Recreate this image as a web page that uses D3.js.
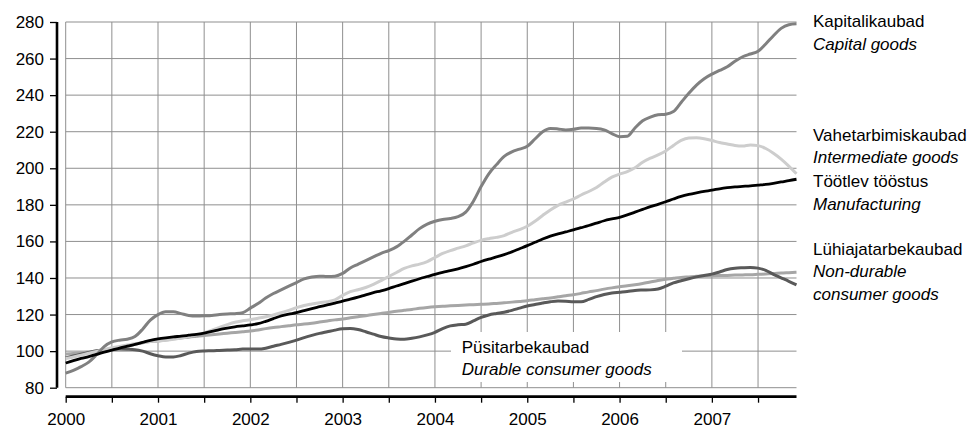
<!DOCTYPE html>
<html>
<head>
<meta charset="utf-8">
<script src="https://cdn.jsdelivr.net/npm/d3@7"></script>
<style>
  html, body { margin: 0; padding: 0; background: #fff; }
  svg { display: block; font-family: "Liberation Sans", Arial, sans-serif; }
</style>
</head>
<body>
<svg id="chart" width="980" height="430"></svg>
<script>
// Monthly index, Jan 2000 .. Dec 2007 (96 months)
const years = ["2000","2001","2002","2003","2004","2005","2006","2007"];
const yTicks = [80,100,120,140,160,180,200,220,240,260,280];

const capital = [88,89.5,91.5,94,98,102.5,105,106,106.5,108,112,117,
 120,121.5,121.5,120.5,119.5,119.2,119.3,119.5,120,120.3,120.5,121,
 123.5,126,129,131.5,133.5,135.5,137.5,139.5,140.5,141,140.8,141,
 142.5,145.5,147.5,149.5,151.5,153.5,155,157,160,163.5,167,169.5,
 171,172,172.5,173.5,176,182,190,197,202,206.5,209,210.5,
 212,216,220,221.8,221.5,221,221.3,222,222,221.8,221,219,
 217.3,217.5,222,226,228,229.3,229.6,231,236,241,245.5,249,
 251.5,253.5,255.5,258.5,261,262.5,264,268,272.5,276.5,278.5,279];

const intermediate = [96,96.8,97.8,98.8,99.8,100.8,101.8,102.6,103.3,104,104.6,105.2,
 105.6,106,106.5,107.2,108,109,110,111.5,113,114.5,115.8,116.6,
 117.2,118,118.8,119.8,121,122.3,123.8,125,125.8,126.5,127,128,
 130.5,132.5,133.6,134.8,136.5,138.6,140.8,143,145.2,146.6,147.6,149,
 151.2,153.4,155,156.3,157.6,159.2,160.6,161.5,162.2,163.2,165,166.5,
 168.3,171,174.2,177.2,179.7,181.5,183.2,185.4,187.3,189.5,192.5,195.2,
 196.8,198.2,200.3,203.3,205.5,207.3,209.5,212.5,215.3,216.6,216.7,216.2,
 215.2,214.1,213.3,212.5,212.2,212.8,212.4,210.8,208.2,205,201.2,197];

const manufacturing = [93.5,94.8,96,97,98.2,99.5,100.6,101.6,102.7,103.7,104.8,105.9,
 106.7,107.3,107.8,108.2,108.7,109.2,109.9,110.8,111.8,112.6,113.3,113.8,
 114.3,115,116.3,117.8,119.2,120.2,121,122.2,123.3,124.3,125.3,126.3,
 127.4,128.4,129.5,130.8,132,133,134.2,135.6,136.9,138.3,139.6,140.8,
 142,143.1,144,145,146.2,147.5,149,150.3,151.5,152.8,154.3,156,
 157.7,159.5,161.3,162.9,164.1,165.2,166.3,167.5,168.7,170,171.3,172.3,
 173.2,174.5,176,177.5,179,180.3,181.7,183.2,184.6,185.7,186.6,187.4,
 188,188.8,189.4,189.8,190.1,190.4,190.8,191.2,191.8,192.5,193.3,194];

const nonDurable = [98.4,98.7,99.1,99.5,100,100.5,101,101.8,102.7,103.7,104.6,105.2,
 105.6,106.1,106.7,107.2,107.6,108.1,108.6,109,109.4,109.8,110.2,110.6,
 111,111.6,112.3,112.9,113.4,113.9,114.4,114.8,115.3,115.9,116.5,117.1,
 117.6,118.2,118.8,119.4,120,120.6,121.2,121.8,122.3,122.8,123.4,123.9,
 124.3,124.6,124.8,125,125.2,125.4,125.6,125.8,126.1,126.4,126.8,127.2,
 127.6,128.1,128.6,129.1,129.7,130.3,130.8,131.6,132.4,133.1,133.9,134.6,
 135.2,135.7,136.3,137,137.8,138.6,139.3,139.8,140.3,140.6,140.9,141.1,
 141.2,141.3,141.4,141.6,141.7,141.8,142,142.2,142.4,142.7,142.9,143.1];

const durable = [96.3,97.3,98.3,99.3,100.2,100.8,101,101.1,101,100.8,100,98.6,
 97.5,96.8,96.8,97.6,98.9,99.8,100.1,100.2,100.4,100.6,100.8,101.1,
 101.2,101.1,101.6,102.7,103.7,104.8,106,107.4,108.6,109.7,110.6,111.5,
 112.2,112.4,111.8,110.6,109.3,108,107.2,106.6,106.5,107,107.8,108.9,
 110.3,112.3,113.8,114.4,114.7,116.5,118.5,119.8,120.6,121.3,122.3,123.5,
 124.7,125.5,126.3,127,127.4,127.3,127,127,128.3,129.8,131,131.8,
 132.2,132.6,133.2,133.4,133.5,134,135.5,137.3,138.5,139.6,140.6,141.4,
 142.1,143.3,144.6,145.3,145.6,145.8,145.4,144.2,142,140.1,138.2,136.2];

const seriesNames = ["nonDurable","durable","intermediate","capital","manufacturing"];
const seriesValues = [nonDurable, durable, intermediate, capital, manufacturing];
const seriesColors = ["#a6a6a6","#595959","#cdcdcd","#808080","#000000"];

const labelsRight = [
  {lines:["Kapitalikaubad","Capital goods"], y:27},
  {lines:["Vahetarbimiskaubad","Intermediate goods"], y:140.5},
  {lines:["Töötlev tööstus","Manufacturing"], y:187},
  {lines:["Lühiajatarbekaubad","Non-durable","consumer goods"], y:254.5}
];
const labelDurable = ["Püsitarbekaubad","Durable consumer goods"];

const svg = d3.select("#chart");
const x = d3.scaleLinear().domain([0, 95]).range([65.7, 796.5]);
const y = d3.scaleLinear().domain([80, 280]).range([387.7, 22]);

const grid = svg.append("g");
// horizontal gridlines
grid.selectAll("line.h").data(yTicks).join("line")
  .attr("x1", x(0)).attr("x2", x(95))
  .attr("y1", d => y(d)).attr("y2", d => y(d))
  .attr("stroke", "#8f8f8f").attr("stroke-width", 1);
// vertical gridlines every 6 months
const vTicks = d3.range(0, 95, 6);
grid.selectAll("line.v").data(vTicks).join("line")
  .attr("x1", d => x(d)).attr("x2", d => x(d))
  .attr("y1", y(280)).attr("y2", y(80))
  .attr("stroke", "#8f8f8f").attr("stroke-width", 1);

// white legend box for durable goods
svg.append("rect").attr("x", 451).attr("y", 332).attr("width", 231).attr("height", 50).attr("fill", "#fff");

// lines
const line = d3.line().x((d,i) => x(i)).y(d => y(d)).curve(d3.curveMonotoneX);
svg.append("g").selectAll("path").data(seriesValues).join("path")
  .attr("d", d => line(d))
  .attr("fill", "none")
  .attr("stroke", (d,i) => seriesColors[i])
  .attr("stroke-width", (d,i) => i === 4 ? 2.8 : 3)
  .attr("stroke-linejoin", "round");

// y axis
const yAxis = d3.axisLeft(y).tickValues(yTicks).tickSize(7).tickPadding(6);
const ya = svg.append("g").attr("transform", "translate(57,0)").call(yAxis);
ya.select(".domain").attr("d", `M0,${y(280)}V${y(80)}`).attr("stroke", "#000").attr("stroke-width", 2.6);
ya.selectAll(".tick line").attr("stroke", "#000").attr("stroke-width", 1.3);
ya.selectAll(".tick text").attr("font-size", 17).attr("fill", "#000")
  .attr("font-family", "Liberation Sans, Arial, sans-serif");

// x axis
const xAxis = d3.axisBottom(x).tickValues(vTicks).tickSize(6)
  .tickFormat(d => d % 12 === 0 ? years[d/12] : "").tickPadding(10);
const xa = svg.append("g").attr("transform", "translate(0,396.7)").call(xAxis);
xa.select(".domain").attr("d", `M${x(0)},0H${x(95)}`).attr("stroke", "#000").attr("stroke-width", 2.8);
xa.selectAll(".tick line").attr("stroke", "#000").attr("stroke-width", 1.3);
xa.selectAll(".tick text").attr("font-size", 17).attr("fill", "#000")
  .attr("font-family", "Liberation Sans, Arial, sans-serif");

// right labels
const rl = svg.append("g").attr("font-size", 17).attr("fill", "#000");
labelsRight.forEach(lb => {
  lb.lines.forEach((t, k) => {
    rl.append("text").attr("x", 813).attr("y", lb.y + k * 22.5)
      .attr("font-style", k === 0 ? "normal" : "italic").text(t);
  });
});
// durable label
labelDurable.forEach((t, k) => {
  svg.append("text").attr("x", 461.7).attr("y", 352.5 + k * 22.5)
    .attr("font-size", 17).attr("font-style", k === 0 ? "normal" : "italic").text(t);
});
</script>
</body>
</html>
